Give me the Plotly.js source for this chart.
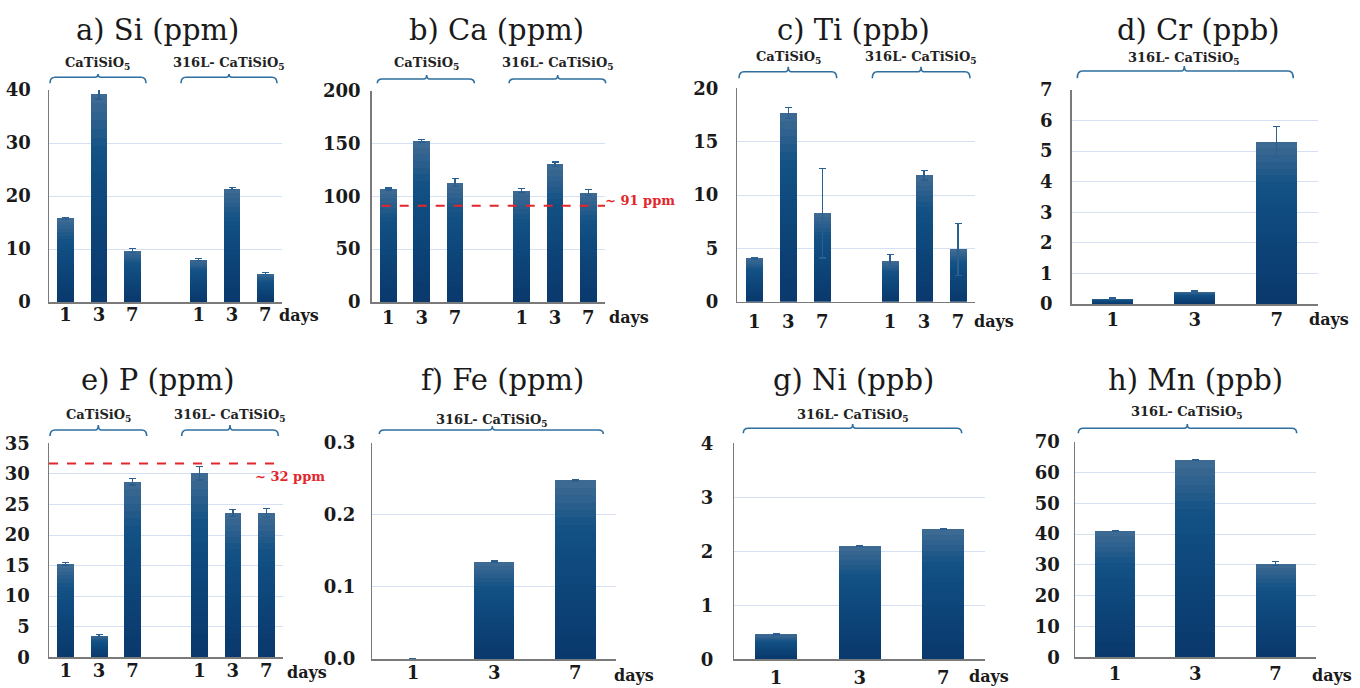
<!DOCTYPE html>
<html>
<head>
<meta charset="utf-8">
<script src="https://cdn.plot.ly/plotly-3.0.1.min.js"></script>
<style>html,body{margin:0;padding:0;background:#fff;}#chart{width:1360px;height:688px;}</style>
</head>
<body>
<div id="chart"></div>
<script>
// ---------------- DATA ----------------
const days = ['1', '3', '7'];
const groupCa = 'CaTiSiO<sub>5</sub>';
const group316 = '316L- CaTiSiO<sub>5</sub>';

const panelTitles = ['a) Si (ppm)', 'b) Ca (ppm)', 'c) Ti (ppb)', 'd) Cr (ppb)',
                     'e) P (ppm)', 'f) Fe (ppm)', 'g) Ni (ppb)', 'h) Mn (ppb)'];

const siCa = [15.8, 39.2, 9.7];     const siCaErr = [0.2, 0.9, 0.4];
const si316 = [8.0, 21.4, 5.35];    const si316Err = [0.2, 0.2, 0.2];
const caCa = [107, 152.5, 113];     const caCaErr = [1, 1, 4];
const ca316 = [105.2, 130.4, 103.6];const ca316Err = [2, 2, 3];
const tiCa = [4.05, 17.7, 8.3];     const tiCaErr = [0.05, 0.5, 4.2];
const ti316 = [3.8, 11.85, 4.9];    const ti316Err = [0.6, 0.45, 2.45];
const cr316 = [0.18, 0.40, 5.31];   const cr316Err = [0.02, 0.03, 0.5];
const pCa = [15.3, 3.55, 28.7];     const pCaErr = [0.2, 0.15, 0.5];
const p316 = [30.1, 23.6, 23.6];    const p316Err = [1.1, 0.6, 0.7];
const fe316 = [0, 0.135, 0.248];    const fe316Err = [0, 0.001, 0.001];
const ni316 = [0.46, 2.10, 2.41];   const ni316Err = [0.01, 0.01, 0.01];
const mn316 = [41.0, 64.1, 30.4];   const mn316Err = [0.2, 0.2, 0.6];

const caRef = 91;   const caRefLabel = '~ 91 ppm';
const pRef = 31.7;  const pRefLabel = '~ 32 ppm';

const yMax = [40, 200, 20, 7, 35, 0.3, 4, 70];
const yStep = [10, 50, 5, 1, 5, 0.1, 1, 10];

// ---------------- LAYOUT GEOMETRY (pixels) ----------------
const W = 1360, H = 688;
const PX = x => x / W;
const PY = y => 1 - y / H;

const geo = [
  {x0: 49,    x1: 282,    y0: 90,    y1: 302,   ystand: 13, xstand: -4, days: [277, 315], title: [157, 30]},
  {x0: 371.7, x1: 605,    y0: 90.7,  y1: 302,   ystand: 6,  xstand: -1, days: [607, 318], title: [496, 30]},
  {x0: 737.3, x1: 975,    y0: 88.3,  y1: 301.7, ystand: 14, xstand: 3,  days: [972, 321], title: [853, 30]},
  {x0: 1071.7,x1: 1317.7, y0: 90,    y1: 304,   ystand: 14, xstand: -1, days: [1307, 320], title: [1198, 30]},
  {x0: 49,    x1: 283,    y0: 443.3, y1: 657.3, ystand: 14, xstand: -3, days: [285, 672], title: [158, 380]},
  {x0: 372.3, x1: 616,    y0: 442.7, y1: 659,   ystand: 12, xstand: -3, days: [612, 675], title: [502, 380]},
  {x0: 734.3, x1: 985,    y0: 443.3, y1: 659.3, ystand: 16, xstand: 2,  days: [967, 676], title: [853, 380]},
  {x0: 1075,  x1: 1315.7, y0: 441.7, y1: 657.3, ystand: 10, xstand: 0,  days: [1310, 675], title: [1195, 380]}
];

const brackets = [
  [[[50, 146, 98, groupCa], [181, 277, 229, group316]], 77.3, 83.3, 74, 63.3],
  [[[377.3, 474.3, 426.7, groupCa], [509, 605.7, 557.7, group316]], 79, 83.3, 75, 63.3],
  [[[739, 836.7, 788.3, groupCa], [872.3, 970, 921, group316]], 71.7, 78.3, 66.7, 57.3],
  [[[1077.3, 1293.3, 1184.3, group316]], 71, 78.3, 66, 58.3],
  [[[50, 146.7, 98.3, groupCa], [181.7, 278.3, 230, group316]], 430, 436, 425, 415],
  [[[379.3, 603.3, 492.3, group316]], 430, 434, 426, 420],
  [[[743.3, 961.7, 852.7, group316]], 428.3, 433.3, 424, 415],
  [[[1078.3, 1296.7, 1187.3, group316]], 428.3, 433.3, 424, 412.7]
];

const panelSeries = [
  [[siCa, siCaErr], [si316, si316Err]],
  [[caCa, caCaErr], [ca316, ca316Err]],
  [[tiCa, tiCaErr], [ti316, ti316Err]],
  [[cr316, cr316Err]],
  [[pCa, pCaErr], [p316, p316Err]],
  [[fe316, fe316Err]],
  [[ni316, ni316Err]],
  [[mn316, mn316Err]]
];

// ---------------- BUILD ----------------
const serif = 'DejaVu Serif';
const topCol = [64, 108, 148], midCol = [18, 80, 132], botCol = [9, 56, 108];
function gradColor(t) {
  let a, b, u;
  if (t > 0.72) { a = midCol; b = topCol; u = (t - 0.72) / 0.28; }
  else { a = botCol; b = midCol; u = t / 0.72; }
  const c = a.map((v, i) => Math.round(v + (b[i] - v) * u));
  return 'rgb(' + c.join(',') + ')';
}

const data = [];
const layout = {
  width: W, height: H,
  margin: {l: 0, r: 0, t: 0, b: 0},
  paper_bgcolor: '#ffffff', plot_bgcolor: '#ffffff',
  showlegend: false, barmode: 'stack',
  font: {family: serif},
  annotations: [], shapes: []
};

const tickFont = {family: serif, size: 18, color: '#1a1a1a', weight: 'bold'};
const NSEG = 24;
panelSeries.forEach((groups, p) => {
  const g = geo[p];
  const ax = p === 0 ? '' : String(p + 1);
  const xs = [], vals = [], errs = [], tickv = [], tickt = [];
  groups.forEach((grp, gi) => {
    grp[0].forEach((v, i) => {
      const pos = gi * (days.length + 1) + i;
      xs.push(pos); vals.push(v); errs.push(grp[1][i]);
      tickv.push(pos); tickt.push(days[i]);
    });
  });
  const nSlots = groups.length === 2 ? 2 * days.length + 1 : days.length;

  for (let k = 0; k < NSEG; k++) {
    const tr = {
      type: 'bar', x: xs, y: vals.map(v => v / NSEG), width: 0.5,
      xaxis: 'x' + ax, yaxis: 'y' + ax,
      marker: {color: gradColor((k + 0.5) / NSEG), line: {width: 0}},
      hoverinfo: 'skip', showlegend: false, cliponaxis: false
    };
    if (k === NSEG - 1) {
      tr.error_y = {type: 'data', array: errs, visible: true, color: '#2a5f8f', thickness: 1.3, width: 3.5};
    }
    data.push(tr);
  }

  layout['xaxis' + ax] = {
    domain: [PX(g.x0), PX(g.x1)], anchor: 'y' + ax,
    range: [-0.5, nSlots - 0.5], tickmode: 'array', tickvals: tickv, ticktext: tickt,
    showgrid: false, zeroline: false, showline: true, linecolor: '#7a7a7a', linewidth: 1.5,
    ticks: '', tickfont: tickFont,
    ticklabelstandoff: g.xstand, fixedrange: true
  };
  layout['yaxis' + ax] = {
    domain: [PY(g.y1), PY(g.y0)], anchor: 'x' + ax,
    range: [0, yMax[p]], dtick: yStep[p], tick0: 0,
    tickformat: p === 5 ? '.1f' : '',
    showgrid: true, gridcolor: '#d5e1f2', gridwidth: 1,
    zeroline: false, showline: true, linecolor: '#7a7a7a', linewidth: 1.5,
    ticks: '', tickfont: tickFont,
    ticklabelstandoff: g.ystand, fixedrange: true
  };

  layout.annotations.push({
    text: panelTitles[p], xref: 'paper', yref: 'paper',
    x: PX(g.title[0]), y: PY(g.title[1]), xanchor: 'center', yanchor: 'middle',
    showarrow: false, font: {family: serif, size: 29, color: '#1a1a1a'}
  });
  layout.annotations.push({
    text: 'days', xref: 'paper', yref: 'paper',
    x: PX(g.days[0]), y: PY(g.days[1]), xanchor: 'left', yanchor: 'middle',
    showarrow: false, font: {family: serif, size: 16, color: '#1a1a1a', weight: 'bold'}
  });

  const [list, yl, ye, yp, ylab] = brackets[p];
  list.forEach(b => {
    const [l, r, c, label] = b;
    const rr = 5;
    const path = 'M' + PX(l) + ',' + PY(ye) +
      ' Q' + PX(l) + ',' + PY(yl) + ' ' + PX(l + rr) + ',' + PY(yl) +
      ' L' + PX(c - 3) + ',' + PY(yl) +
      ' Q' + PX(c) + ',' + PY(yl) + ' ' + PX(c) + ',' + PY(yp) +
      ' Q' + PX(c) + ',' + PY(yl) + ' ' + PX(c + 3) + ',' + PY(yl) +
      ' L' + PX(r - rr) + ',' + PY(yl) +
      ' Q' + PX(r) + ',' + PY(yl) + ' ' + PX(r) + ',' + PY(ye);
    layout.shapes.push({type: 'path', xref: 'paper', yref: 'paper', path: path,
      line: {color: '#2f6f9f', width: 1.6}});
    layout.annotations.push({
      text: label, xref: 'paper', yref: 'paper', x: PX(c), y: PY(ylab),
      xanchor: 'center', yanchor: 'middle', showarrow: false,
      font: {family: serif, size: 13, color: '#222222', weight: 'bold'}
    });
  });
});

layout.shapes.push({type: 'line', xref: 'x2', yref: 'y2', x0: -0.2, x1: 6.8, y0: caRef, y1: caRef,
  line: {color: '#e3262b', width: 2, dash: 'dash'}});
layout.annotations.push({text: caRefLabel, xref: 'paper', yref: 'paper', x: PX(603), y: PY(200),
  xanchor: 'left', yanchor: 'middle', showarrow: false,
  font: {family: serif, size: 13, color: '#e3262b', weight: 'bold'}});
layout.shapes.push({type: 'line', xref: 'x5', yref: 'y5', x0: -0.5, x1: 6.83, y0: pRef, y1: pRef,
  line: {color: '#e3262b', width: 2, dash: 'dash'}});
layout.annotations.push({text: pRefLabel, xref: 'paper', yref: 'paper', x: PX(253), y: PY(476.7),
  xanchor: 'left', yanchor: 'middle', showarrow: false,
  font: {family: serif, size: 13, color: '#e3262b', weight: 'bold'}});

Plotly.newPlot('chart', data, layout, {displayModeBar: false, staticPlot: true});
</script>
</body>
</html>
